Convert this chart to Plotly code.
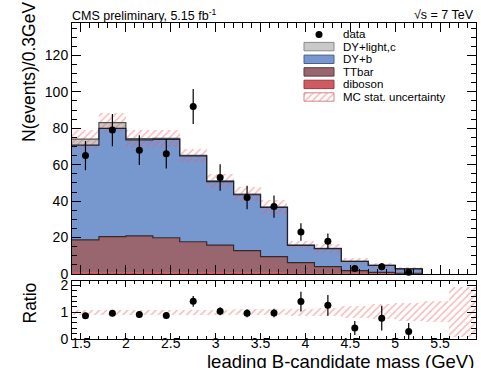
import numpy as np
import plotly.graph_objects as go

# ---------------- data ----------------
bin_edges = [1.4, 1.7, 2.0, 2.3, 2.6, 2.9, 3.2, 3.5, 3.8, 4.1, 4.4, 4.7, 5.0, 5.3, 5.6, 5.9]
bin_centers = [1.55, 1.85, 2.15, 2.45, 2.75, 3.05, 3.35, 3.65, 3.95, 4.25, 4.55, 4.85, 5.15]

diboson = [0.9, 0.9, 0.9, 0.9, 0.8, 0.8, 0.7, 0.6, 0.5, 0.4, 0.2, 0.1, 0.05]
ttbar = [17.8, 19.6, 20.0, 19.0, 16.9, 15.0, 12.1, 8.9, 5.7, 3.6, 1.6, 0.8, 0.35]
dy_b = [52.1, 59.5, 52.7, 54.0, 47.1, 34.9, 30.7, 27.0, 9.5, 9.9, 5.1, 3.8, 2.45]
dy_light = [3.2, 3.1, 0.7, 0.6, 0.4, 0.4, 0.3, 0.3, 0.2, 0.2, 0.1, 0.1, 0.05]
mc_stat = [5.2, 5.3, 4.8, 4.8, 3.5, 4.0, 3.7, 3.6, 2.2, 2.3, 1.6, 1.3, 1.0]

data = [65, 79, 68, 66, 92, 53, 42, 37, 23, 18, 3, 4, 1]
data_err = [8.0, 8.9, 8.2, 8.1, 9.6, 7.3, 6.5, 6.1, 4.8, 4.2, 1.7, 2.0, 1.0]

ratio = [0.87, 0.96, 0.92, 0.88, 1.41, 1.04, 0.96, 0.97, 1.40, 1.26, 0.41, 0.78, 0.28]
ratio_err = [0.11, 0.11, 0.11, 0.11, 0.2, 0.15, 0.15, 0.16, 0.37, 0.39, 0.26, 0.46, 0.32]
band_lo = [0.91, 0.91, 0.91, 0.91, 0.90, 0.90, 0.89, 0.89, 0.87, 0.86, 0.79, 0.74, 0.66, 0.62, 0.06]
band_hi = [1.09, 1.09, 1.09, 1.09, 1.10, 1.10, 1.11, 1.11, 1.14, 1.15, 1.24, 1.31, 1.36, 1.42, 1.95]

legend_labels = ["data", "DY+light,c", "DY+b", "TTbar", "diboson", "MC stat. uncertainty"]

# ---------------- styling ----------------
FONT = "Liberation Sans, Arial, Helvetica, sans-serif"
C_GREY = "#c9c9c9"
C_BLUE = "#7797cf"
C_TT = "#996670"
C_DIB = "#cf5a62"
C_HATCH = "rgba(240,90,90,0.85)"

W, H = 481, 368
L, R, T, B = 72, 5, 23, 29
PW, PH = W - L - R, H - T - B
TOP_Y0, TOP_Y1 = 274, 23    # pixel rows of top panel
RAT_Y0, RAT_Y1 = 339, 281   # pixel rows of ratio panel


def py2paper(py):
    return (H - B - py) / PH


def px2paper(px):
    return (px - L) / PW


# cumulative stack levels
c_dib = np.array(diboson)
c_tt = c_dib + np.array(ttbar)
c_b = c_tt + np.array(dy_b)
c_tot = c_b + np.array(dy_light)

width = 0.3
nb = len(bin_centers)
fig = go.Figure()

# stacked fills (drawn back to front)
for lvl, col in [(c_tot, C_GREY), (c_b, C_BLUE), (c_tt, C_TT), (c_dib, C_DIB)]:
    fig.add_trace(go.Bar(x=bin_centers, y=lvl, width=width, marker=dict(color=col, line=dict(width=0)),
                         xaxis="x", yaxis="y", showlegend=False, hoverinfo="skip"))

# step outlines
edges = bin_edges[:nb + 1]
for lvl, col in [(c_tot, "#555555"), (c_b, "#1e2433"), (c_tt, "#3a2828")]:
    xs = list(edges)
    ys = list(lvl) + [lvl[-1]]
    xs.append(edges[-1])
    ys.append(0)
    fig.add_trace(go.Scatter(x=xs, y=ys, mode="lines", line=dict(color=col, width=1.2, shape="hv"),
                             xaxis="x", yaxis="y", showlegend=False, hoverinfo="skip"))

# MC stat uncertainty band (top)
unc = np.array(mc_stat)
fig.add_trace(go.Bar(x=bin_centers, y=2 * unc, base=c_tot - unc, width=width,
                     marker=dict(color="rgba(0,0,0,0)", line=dict(width=0),
                                 pattern=dict(shape="/", fgcolor=C_HATCH, size=5, solidity=0.3)),
                     xaxis="x", yaxis="y", showlegend=False, hoverinfo="skip"))

# data points
fig.add_trace(go.Scatter(x=bin_centers, y=data, mode="markers",
                         marker=dict(color="black", size=7),
                         error_y=dict(type="data", array=data_err, color="black", thickness=1.2, width=0),
                         xaxis="x", yaxis="y", showlegend=False, hoverinfo="skip", cliponaxis=False))

# ratio band
rb_centers = [(bin_edges[i] + bin_edges[i + 1]) / 2 for i in range(len(band_lo))]
fig.add_trace(go.Bar(x=rb_centers, y=np.array(band_hi) - np.array(band_lo), base=band_lo, width=width,
                     marker=dict(color="rgba(0,0,0,0)", line=dict(width=0),
                                 pattern=dict(shape="/", fgcolor=C_HATCH, size=5, solidity=0.3)),
                     xaxis="x2", yaxis="y2", showlegend=False, hoverinfo="skip"))

fig.add_trace(go.Scatter(x=bin_centers, y=ratio, mode="markers",
                         marker=dict(color="black", size=7),
                         error_y=dict(type="data", array=ratio_err, color="black", thickness=1.2, width=0),
                         xaxis="x2", yaxis="y2", showlegend=False, hoverinfo="skip"))

# ---------------- custom legend (pixel coordinate overlay axes) ----------------
leg_box_x0, leg_box_x1 = 304, 334
leg_rows = [34.5, 46.6, 59.3, 71.9, 84.4, 97.0]
box_h = 8.4
leg_fill = [None, C_GREY, C_BLUE, C_TT, C_DIB, "hatch"]
leg_line = [None, "#8a8a8a", "#4a5f88", "#5d3b42", "#9a3a40", "#cc8888"]
for i, (lab, yc) in enumerate(zip(legend_labels, leg_rows)):
    if i == 0:
        fig.add_trace(go.Scatter(x=[(leg_box_x0 + leg_box_x1) / 2], y=[yc], mode="markers",
                                 marker=dict(color="black", size=7), xaxis="x3", yaxis="y3",
                                 showlegend=False, hoverinfo="skip"))
    else:
        y0, y1 = yc - box_h / 2, yc + box_h / 2
        kw = dict(fillcolor=leg_fill[i])
        if leg_fill[i] == "hatch":
            kw = dict(fillcolor="rgba(0,0,0,0)",
                      fillpattern=dict(shape="/", fgcolor=C_HATCH, size=5, solidity=0.3))
        fig.add_trace(go.Scatter(x=[leg_box_x0, leg_box_x1, leg_box_x1, leg_box_x0, leg_box_x0],
                                 y=[y0, y0, y1, y1, y0], mode="lines", fill="toself",
                                 line=dict(color=leg_line[i], width=1), xaxis="x3", yaxis="y3",
                                 showlegend=False, hoverinfo="skip", **kw))
    fig.add_annotation(x=px2paper(341), y=py2paper(yc), xref="paper", yref="paper", text=lab,
                       showarrow=False, xanchor="left", yanchor="middle",
                       font=dict(family=FONT, size=11.5, color="black"))

# ---------------- text ----------------
fig.add_annotation(x=px2paper(70), y=py2paper(15), xref="paper", yref="paper",
                   text="CMS preliminary, 5.15 fb<sup>-1</sup>", showarrow=False,
                   xanchor="left", yanchor="middle", font=dict(family=FONT, size=12.5, color="black"))
fig.add_annotation(x=px2paper(476), y=py2paper(15), xref="paper", yref="paper",
                   text="√s = 7 TeV", showarrow=False,
                   xanchor="right", yanchor="middle", font=dict(family=FONT, size=12.5, color="black"))
fig.add_annotation(x=px2paper(476), y=py2paper(361.5), xref="paper", yref="paper",
                   text="leading B-candidate mass (GeV)", showarrow=False,
                   xanchor="right", yanchor="middle", font=dict(family=FONT, size=18.5, color="black"))
fig.add_annotation(x=px2paper(29), y=py2paper(0), xref="paper", yref="paper",
                   text="N(events)/0.3GeV", showarrow=False, textangle=-90,
                   xanchor="center", yanchor="top", font=dict(family=FONT, size=17.5, color="black"))
fig.add_annotation(x=px2paper(29), y=py2paper(281), xref="paper", yref="paper",
                   text="Ratio", showarrow=False, textangle=-90,
                   xanchor="center", yanchor="top", font=dict(family=FONT, size=17.5, color="black"))

axis_common = dict(showline=True, linecolor="black", linewidth=1, mirror="allticks",
                   ticks="inside", tickcolor="black", showgrid=False, zeroline=False,
                   tickfont=dict(family=FONT, size=14, color="black"))

top_dom = [py2paper(TOP_Y0), 1.0]
rat_dom = [0.0, py2paper(RAT_Y1)]

fig.update_layout(
    width=W, height=H, margin=dict(l=L, r=R, t=T, b=B),
    paper_bgcolor="white", plot_bgcolor="white",
    barmode="overlay", bargap=0, showlegend=False,
    xaxis=dict(domain=[0, 1], anchor="y", range=[1.4, 5.9], dtick=0.5, tick0=1.5, ticklen=9,
               showticklabels=False, minor=dict(dtick=0.1, ticklen=5, ticks="inside", tickcolor="black"),
               **axis_common),
    yaxis=dict(domain=top_dom, anchor="x", range=[0, 137.8], dtick=20, ticklen=9,
               minor=dict(dtick=5, ticklen=5, ticks="inside", tickcolor="black"), **axis_common),
    xaxis2=dict(domain=[0, 1], anchor="y2", range=[1.4, 5.9], dtick=0.5, tick0=1.5, ticklen=6,
                minor=dict(dtick=0.1, ticklen=3, ticks="inside", tickcolor="black"),
                ticklabelstandoff=-9, matches="x", **axis_common),
    yaxis2=dict(domain=rat_dom, anchor="x2", range=[0, 2.17], dtick=1, ticklen=9,
                minor=dict(dtick=0.2, ticklen=5, ticks="inside", tickcolor="black"), **axis_common),
    xaxis3=dict(overlaying="x", range=[L, W - R], visible=False, fixedrange=True),
    yaxis3=dict(overlaying="y", range=[TOP_Y0, TOP_Y1], visible=False, fixedrange=True),
)

fig.write_html("out.html", config={"displayModeBar": False},
               post_script="document.body.style.margin='0';document.body.style.padding='0';")
